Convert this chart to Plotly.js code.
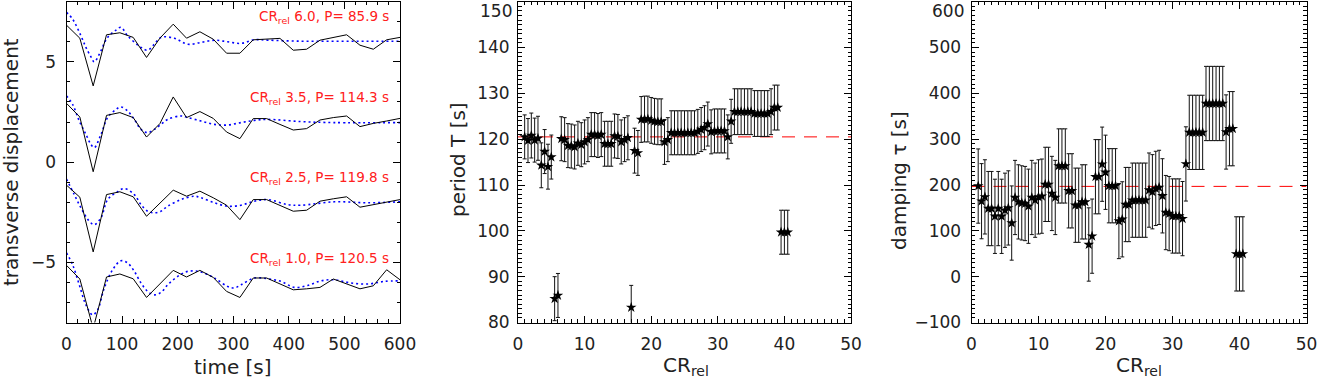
<!DOCTYPE html>
<html><head><meta charset="utf-8">
<script src="https://cdn.plot.ly/plotly-3.0.1.min.js"></script>
<style>html,body{margin:0;padding:0;background:#fff;} #chart{width:1317px;height:380px;}</style>
</head><body><div id="chart"></div>
<script>
// ---------- Left panel: transverse displacement vs time ----------
const timeObs = [0,24,48,72,96,120,144,168,192,216,240,264,288,312,336,360,384,408,432,456,480,504,528,552,576,600];
const obsCR60 = [6.83,6.18,3.80,6.35,6.45,6.22,5.22,6.18,6.88,6.18,6.50,6.13,5.43,5.43,6.10,6.13,6.17,5.58,5.63,6.08,6.22,6.35,5.83,5.63,6.10,6.22];
const obsCR35 = [2.93,2.25,-0.48,2.33,2.47,2.22,1.25,1.92,3.25,2.22,2.52,2.18,1.50,1.17,2.17,2.17,1.88,1.60,1.67,2.10,2.22,2.30,1.77,1.93,2.05,2.18];
const obsCR25 = [-1.15,-1.75,-4.48,-1.62,-1.48,-1.73,-2.70,-2.03,-1.40,-1.70,-1.45,-1.78,-2.15,-2.87,-1.87,-1.87,-2.15,-2.45,-2.40,-1.95,-1.83,-1.73,-2.25,-2.12,-1.98,-1.87];
const obsCR10 = [-5.15,-5.83,-8.30,-5.73,-5.58,-5.82,-6.75,-6.08,-5.40,-5.73,-5.40,-5.75,-6.45,-6.75,-5.78,-5.78,-6.07,-6.37,-6.32,-6.25,-5.83,-6.08,-6.32,-6.17,-5.37,-5.87];

const fitTime60 = [0,11,26,35,44,50,59,74,89,98,110,134,146,158,170,194,218,242,266,290,314,338,362,422,482,542,600];
const fitCR60   = [7.47,7.13,6.30,5.72,5.25,5.00,5.38,6.22,6.58,6.72,6.30,5.72,5.58,5.88,6.22,6.18,5.88,5.97,6.08,6.00,5.92,6.10,6.08,6.03,6.03,6.03,6.03];
const fitTime35 = [0,11,23,35,44,50,62,74,89,98,110,122,134,146,158,170,182,206,218,242,266,290,314,338,362,422,482,600];
const fitCR35   = [3.30,2.88,2.05,1.38,0.88,0.72,1.38,2.22,2.63,2.75,2.55,2.13,1.63,1.47,1.63,1.88,2.13,2.30,2.22,2.05,1.88,1.85,1.97,2.08,2.13,2.02,1.97,1.97];
const fitTime25 = [0,14,26,41,50,62,74,89,104,122,134,146,158,170,182,206,230,242,266,290,314,338,362,398,422,482,542,600];
const fitCR25   = [-0.85,-1.62,-2.28,-2.95,-3.12,-2.78,-1.87,-1.53,-1.32,-1.62,-2.12,-2.45,-2.53,-2.45,-2.20,-1.87,-1.70,-1.78,-2.03,-2.20,-2.15,-1.95,-1.87,-2.12,-2.15,-1.98,-2.03,-1.98];
const fitTime10 = [0,11,23,35,47,56,68,83,98,110,122,134,146,158,170,182,200,218,242,266,290,302,314,338,362,386,410,434,458,482,512,542,572,600];
const fitCR10   = [-4.53,-5.12,-6.12,-7.12,-7.62,-7.37,-6.28,-5.37,-4.92,-5.03,-5.45,-6.03,-6.45,-6.62,-6.50,-6.12,-5.70,-5.45,-5.48,-5.78,-6.20,-6.28,-6.12,-5.78,-5.82,-5.95,-6.25,-6.15,-5.92,-5.87,-6.03,-6.08,-5.95,-5.92];

const labelCR     = [6.0, 3.5, 2.5, 1.0];
const labelPeriod = [85.9, 114.3, 119.8, 120.5];
const labelYPos   = [7.25, 3.2, -0.8, -4.85];

// ---------- Middle and right panels: period & damping vs CR_rel ----------
const crRel = [1,1.5,2,2.5,3,3.5,4,4.5,5,5.5,6,6.5,7,7.5,8,8.5,9,9.5,10,10.5,11,11.5,12,12.5,13,13.5,14,14.5,15,15.5,16,16.5,17,17.5,18,18.5,19,19.5,20,20.5,21,21.5,22,22.5,23,23.5,24,24.5,25,25.5,26,26.5,27,27.5,28,28.5,29,29.5,30,30.5,31,31.5,32,32.5,33,33.5,34,34.5,35,35.5,36,36.5,37,37.5,38,38.5,39,39.5,40,40.5];
const period = [120.5,119.7,120.8,119.8,120.2,114.3,117.3,114.0,116.1,85.2,85.9,120.1,119.9,118.6,118.5,118.3,119.1,118.8,119.4,119.9,121.0,121.0,120.8,121.0,119.0,119.0,119.0,120.7,120.6,119.4,119.9,120.3,83.3,117.5,117.0,124.3,124.4,124.4,124.1,123.9,123.8,123.8,119.4,119.9,121.4,121.4,121.4,121.4,121.4,121.4,121.4,121.4,121.7,122.1,122.5,123.3,121.6,121.8,121.8,121.8,121.8,120.5,123.9,126.0,126.0,126.0,126.0,126.0,126.0,125.6,125.6,125.6,125.6,125.6,126.0,126.9,126.9,99.7,99.7,99.7];
const periodErr = [4.8,4.8,4.9,4.8,4.8,4.9,4.8,4.9,4.8,4.8,4.8,4.8,4.8,4.8,4.8,4.8,4.8,4.8,4.8,4.8,4.8,4.8,4.8,4.8,4.9,4.9,4.9,4.8,4.8,4.8,4.8,4.8,4.8,4.9,4.9,5.0,5.0,5.0,5.0,5.0,5.0,5.0,4.9,4.8,4.8,4.8,4.8,4.8,4.8,4.8,4.8,4.8,4.8,4.8,4.8,4.8,4.8,4.8,4.8,4.8,4.8,4.8,4.8,5.0,5.0,5.0,5.0,5.0,5.0,5.0,5.0,5.0,5.0,5.0,5.0,4.9,4.9,4.8,4.8,4.8];
const damping = [197.7,164.7,174.1,148.6,148.6,131.7,148.6,131.7,144.9,150.0,117.0,172.8,163.2,161.0,159.6,153.7,172.8,166.9,174.1,175.7,201.4,201.4,181.6,172.8,241.6,241.6,241.6,187.3,187.3,155.9,155.9,163.2,163.2,70.2,88.4,218.1,218.1,245.4,227.8,198.4,198.4,198.4,121.4,125.1,157.4,157.4,166.9,166.9,166.9,166.9,166.9,188.9,185.3,192.6,194.8,176.4,139.9,137.7,132.4,132.4,132.4,126.7,246.0,314.9,314.9,314.9,314.9,314.9,377.9,377.9,377.9,377.9,377.9,377.9,315.7,322.9,322.9,49.7,49.7,49.7];
const dampingErr = [81,82,81,81,81,81,81,81,81,81,81,81,81,81,81,81,81,81,81,81,81,81,81,81,81,81,81,81,81,81,81,81,81,80,81,81,81,81,81,81,81,81,82,82,81,81,81,81,81,81,81,81,81,81,81,81,81,81,81,81,81,81,81,81,81,81,81,81,81,81,81,81,81,81,81,81,81,81,81,81];
const refPeriod = 120.5;
const refDamping = 197;
const crRange = [0, 50];
const periodTicks = [80, 90, 100, 110, 120, 130, 140, 150];
const dampingTicks = [-100, 0, 100, 200, 300, 400, 500, 600];

// ---------- traces ----------
const traces = [];
function obsTrace(y){ return {x: timeObs, y: y, xaxis:'x', yaxis:'y', type:'scatter', mode:'lines', line:{color:'#000', width:1}, hoverinfo:'skip'}; }
function fitTrace(t, y){ return {x: t, y: y, xaxis:'x', yaxis:'y', type:'scatter', mode:'lines', line:{color:'#0000ff', width:1.6, dash:'2px,3px', shape:'spline', smoothing:1}, hoverinfo:'skip'}; }
traces.push(fitTrace(fitTime60, fitCR60), fitTrace(fitTime35, fitCR35), fitTrace(fitTime25, fitCR25), fitTrace(fitTime10, fitCR10));
traces.push(obsTrace(obsCR60), obsTrace(obsCR35), obsTrace(obsCR25), obsTrace(obsCR10));

traces.push({x: crRange, y: [refPeriod, refPeriod], xaxis:'x2', yaxis:'y2', type:'scatter', mode:'lines', line:{color:'#ff0000', width:1, dash:'13px,9px'}});
traces.push({x: crRange, y: [refDamping, refDamping], xaxis:'x3', yaxis:'y3', type:'scatter', mode:'lines', line:{color:'#ff0000', width:1, dash:'13px,9px'}});

function errTrace(y, err, xa, ya){
  return {x: crRel, y: y, xaxis: xa, yaxis: ya, type:'scatter', mode:'markers',
    marker:{symbol:'star', size:8, color:'#000', line:{width:0}},
    error_y:{type:'data', array: err, visible:true, color:'#111', thickness:1, width:2}};
}
traces.push(errTrace(period, periodErr, 'x2', 'y2'));
traces.push(errTrace(damping, dampingErr, 'x3', 'y3'));

// ---------- layout ----------
const W = 1317, H = 380;
const yDom = [1 - 322.5/H, 1 - 1.7/H];
const FONT = 'DejaVu Sans, sans-serif';
const tickFont = {family: FONT, size:17, color:'#222'};
function axis(extra){
  return Object.assign({
    showline:true, linecolor:'#000', linewidth:1, mirror:'allticks',
    ticks:'inside', ticklen:7, tickwidth:1, tickcolor:'#000',
    showgrid:false, zeroline:false, tickfont: tickFont,
    fixedrange:true
  }, extra);
}
const minor = (d) => ({dtick:d, ticks:'inside', ticklen:3.5, tickwidth:1, tickcolor:'#000', showgrid:false});
// top tick label is placed by hand (just inside the picture, as in the reference)
const topless = (arr) => arr.map((v, i) => i === arr.length - 1 ? '' : String(v).replace('-', '\u2212'));

const titleFont = {family: FONT, size:20, color:'#222'};
const annotations = [];
for (let i = 0; i < labelCR.length; i++) {
  annotations.push({xref:'x', yref:'y', x: 584, y: labelYPos[i], xanchor:'right', yanchor:'middle', showarrow:false,
    text: 'CR<sub>rel</sub> ' + labelCR[i].toFixed(1) + ', P= ' + labelPeriod[i].toFixed(1) + ' s',
    font:{family: FONT, size:13.5, color:'#ff2020'}});
}
function paperAnn(px, py, text, angle, font, xanchor, yanchor){
  return {xref:'paper', yref:'paper', x: px/W, y: 1 - py/H, xanchor: xanchor || 'center', yanchor: yanchor || 'middle', showarrow:false,
    text: text, textangle: angle || 0, font: font || titleFont, borderpad: 0};
}
annotations.push(paperAnn(11, 162, 'transverse displacement', -90));
annotations.push(paperAnn(458, 160, 'period T [s]', -90));
annotations.push(paperAnn(899, 180, 'damping τ [s]', -90));
annotations.push(paperAnn(233, 367, 'time [s]'));
annotations.push(paperAnn(686, 366, 'CR<sub>rel</sub>'));
annotations.push(paperAnn(1139, 366, 'CR<sub>rel</sub>'));
annotations.push(paperAnn(513, 0, String(periodTicks[periodTicks.length - 1]), 0, tickFont, 'right', 'top'));
annotations.push(paperAnn(965, 0, String(dampingTicks[dampingTicks.length - 1]), 0, tickFont, 'right', 'top'));

const layout = {
  width: W, height: H, margin:{l:0, r:0, t:0, b:0},
  paper_bgcolor:'#fff', plot_bgcolor:'#fff', showlegend:false,
  xaxis: axis({domain:[66.5/W, 400/W], range:[0,600], dtick:100, tick0:0, minor: minor(20), anchor:'y', ticklabelstandoff:6}),
  yaxis: axis({domain:yDom, range:[-8,8], tickvals:[-5,0,5], minor: minor(1), anchor:'x', ticklabelstandoff:6}),
  xaxis2: axis({domain:[518/W, 851/W], range:crRange, dtick:10, tick0:0, minor: minor(1), anchor:'y2', ticklabelstandoff:6}),
  yaxis2: axis({domain:yDom, range:[80,150], tickvals: periodTicks, ticktext: topless(periodTicks), minor: minor(1), anchor:'x2', ticklabelstandoff:4}),
  xaxis3: axis({domain:[971.5/W, 1306.5/W], range:crRange, dtick:10, tick0:0, minor: minor(1), anchor:'y3', ticklabelstandoff:6, ticklabeloverflow:'allow'}),
  yaxis3: axis({domain:yDom, range:[-100,600], tickvals: dampingTicks, ticktext: topless(dampingTicks), minor: minor(10), anchor:'x3', ticklabelstandoff:6}),
  annotations: annotations
};

Plotly.newPlot('chart', traces, layout, {staticPlot:true, displayModeBar:false});
</script></body></html>
